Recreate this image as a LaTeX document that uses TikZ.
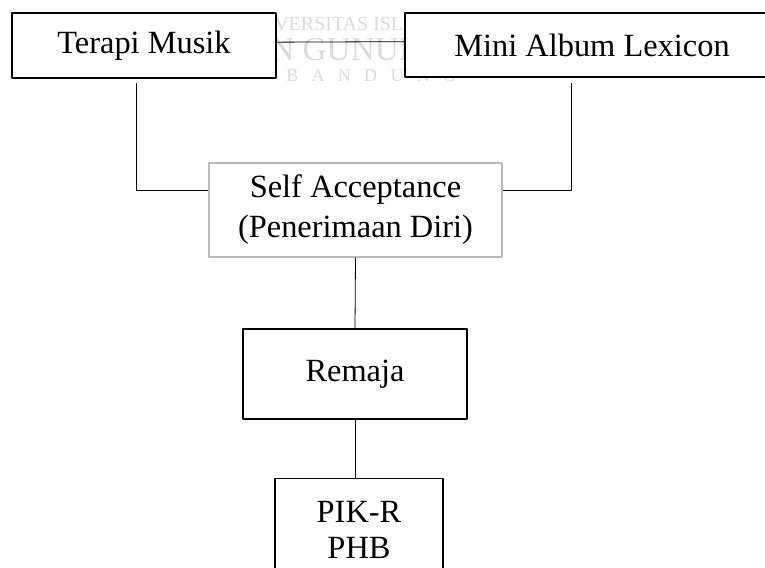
\documentclass[tikz,border=0pt]{standalone}
\usepackage{fontspec}
\setmainfont{Liberation Serif}
\newfontfamily\wmfont{Liberation Serif}
\newfontfamily\wmspaced[LetterSpace=74]{Liberation Serif}
\usetikzlibrary{positioning,calc}

\tikzset{
  box/.style={draw,line width=1pt,fill=white,inner sep=0pt,align=center,font=\fontsize{24.3}{30}\selectfont},
  greybox/.style={box,draw=gray!55,line width=0.9pt},
  link/.style={line width=0.6pt},
  wmtext/.style={text=gray!28,inner sep=0pt,anchor=west}
}

\begin{document}
\begin{tikzpicture}[x=0.75pt,y=-0.75pt,line join=round]
  \useasboundingbox (0,0) rectangle (765,568);
  % watermark behind the top row
  \node[wmtext,font=\wmfont\fontsize{15}{15}\selectfont] (wm1) at (274,24) {VERSITAS ISLAM};
  \node[wmtext,font=\wmfont\fontsize{25}{25}\selectfont] (wm2) at (270,50) {N GUNUNG};
  \node[wmtext,font=\wmspaced\fontsize{13.5}{13.5}\selectfont] (wm3) at (286,76) {BANDUNG};
  \node[box,minimum width=198pt,minimum height=48.75pt] (terapi) at (144,45.5) {Terapi Musik};
  \node[box,minimum width=280.5pt,minimum height=48pt] (album) at (592,45) {Mini Album Lexicon};
  \node[greybox,minimum width=219.75pt,minimum height=70.5pt] (self) at (355.5,210) {Self Acceptance\\(Penerimaan Diri)};
  \node[box,minimum width=168pt,minimum height=67.5pt] (remaja) at (355,374) {Remaja};
  \node[box,minimum width=126pt,minimum height=77pt,font=\fontsize{24.3}{27}\selectfont] (pik) at (359,530) {PIK-R\\PHB};
  \coordinate (tl) at (136,83);\coordinate (tr) at (571,83);
  \draw[link] ([yshift=2.5pt]terapi.east) -- ([yshift=2.5pt]album.west);
  \draw[link] (tl) |- ([yshift=15pt]self.west);
  \draw[link] ([yshift=15pt]self.east) -| (tr);
  \draw[link] (self.south) -- (remaja.north);
  \draw[link] (remaja.south) -- (remaja.south |- pik.north);
\end{tikzpicture}
\end{document}
